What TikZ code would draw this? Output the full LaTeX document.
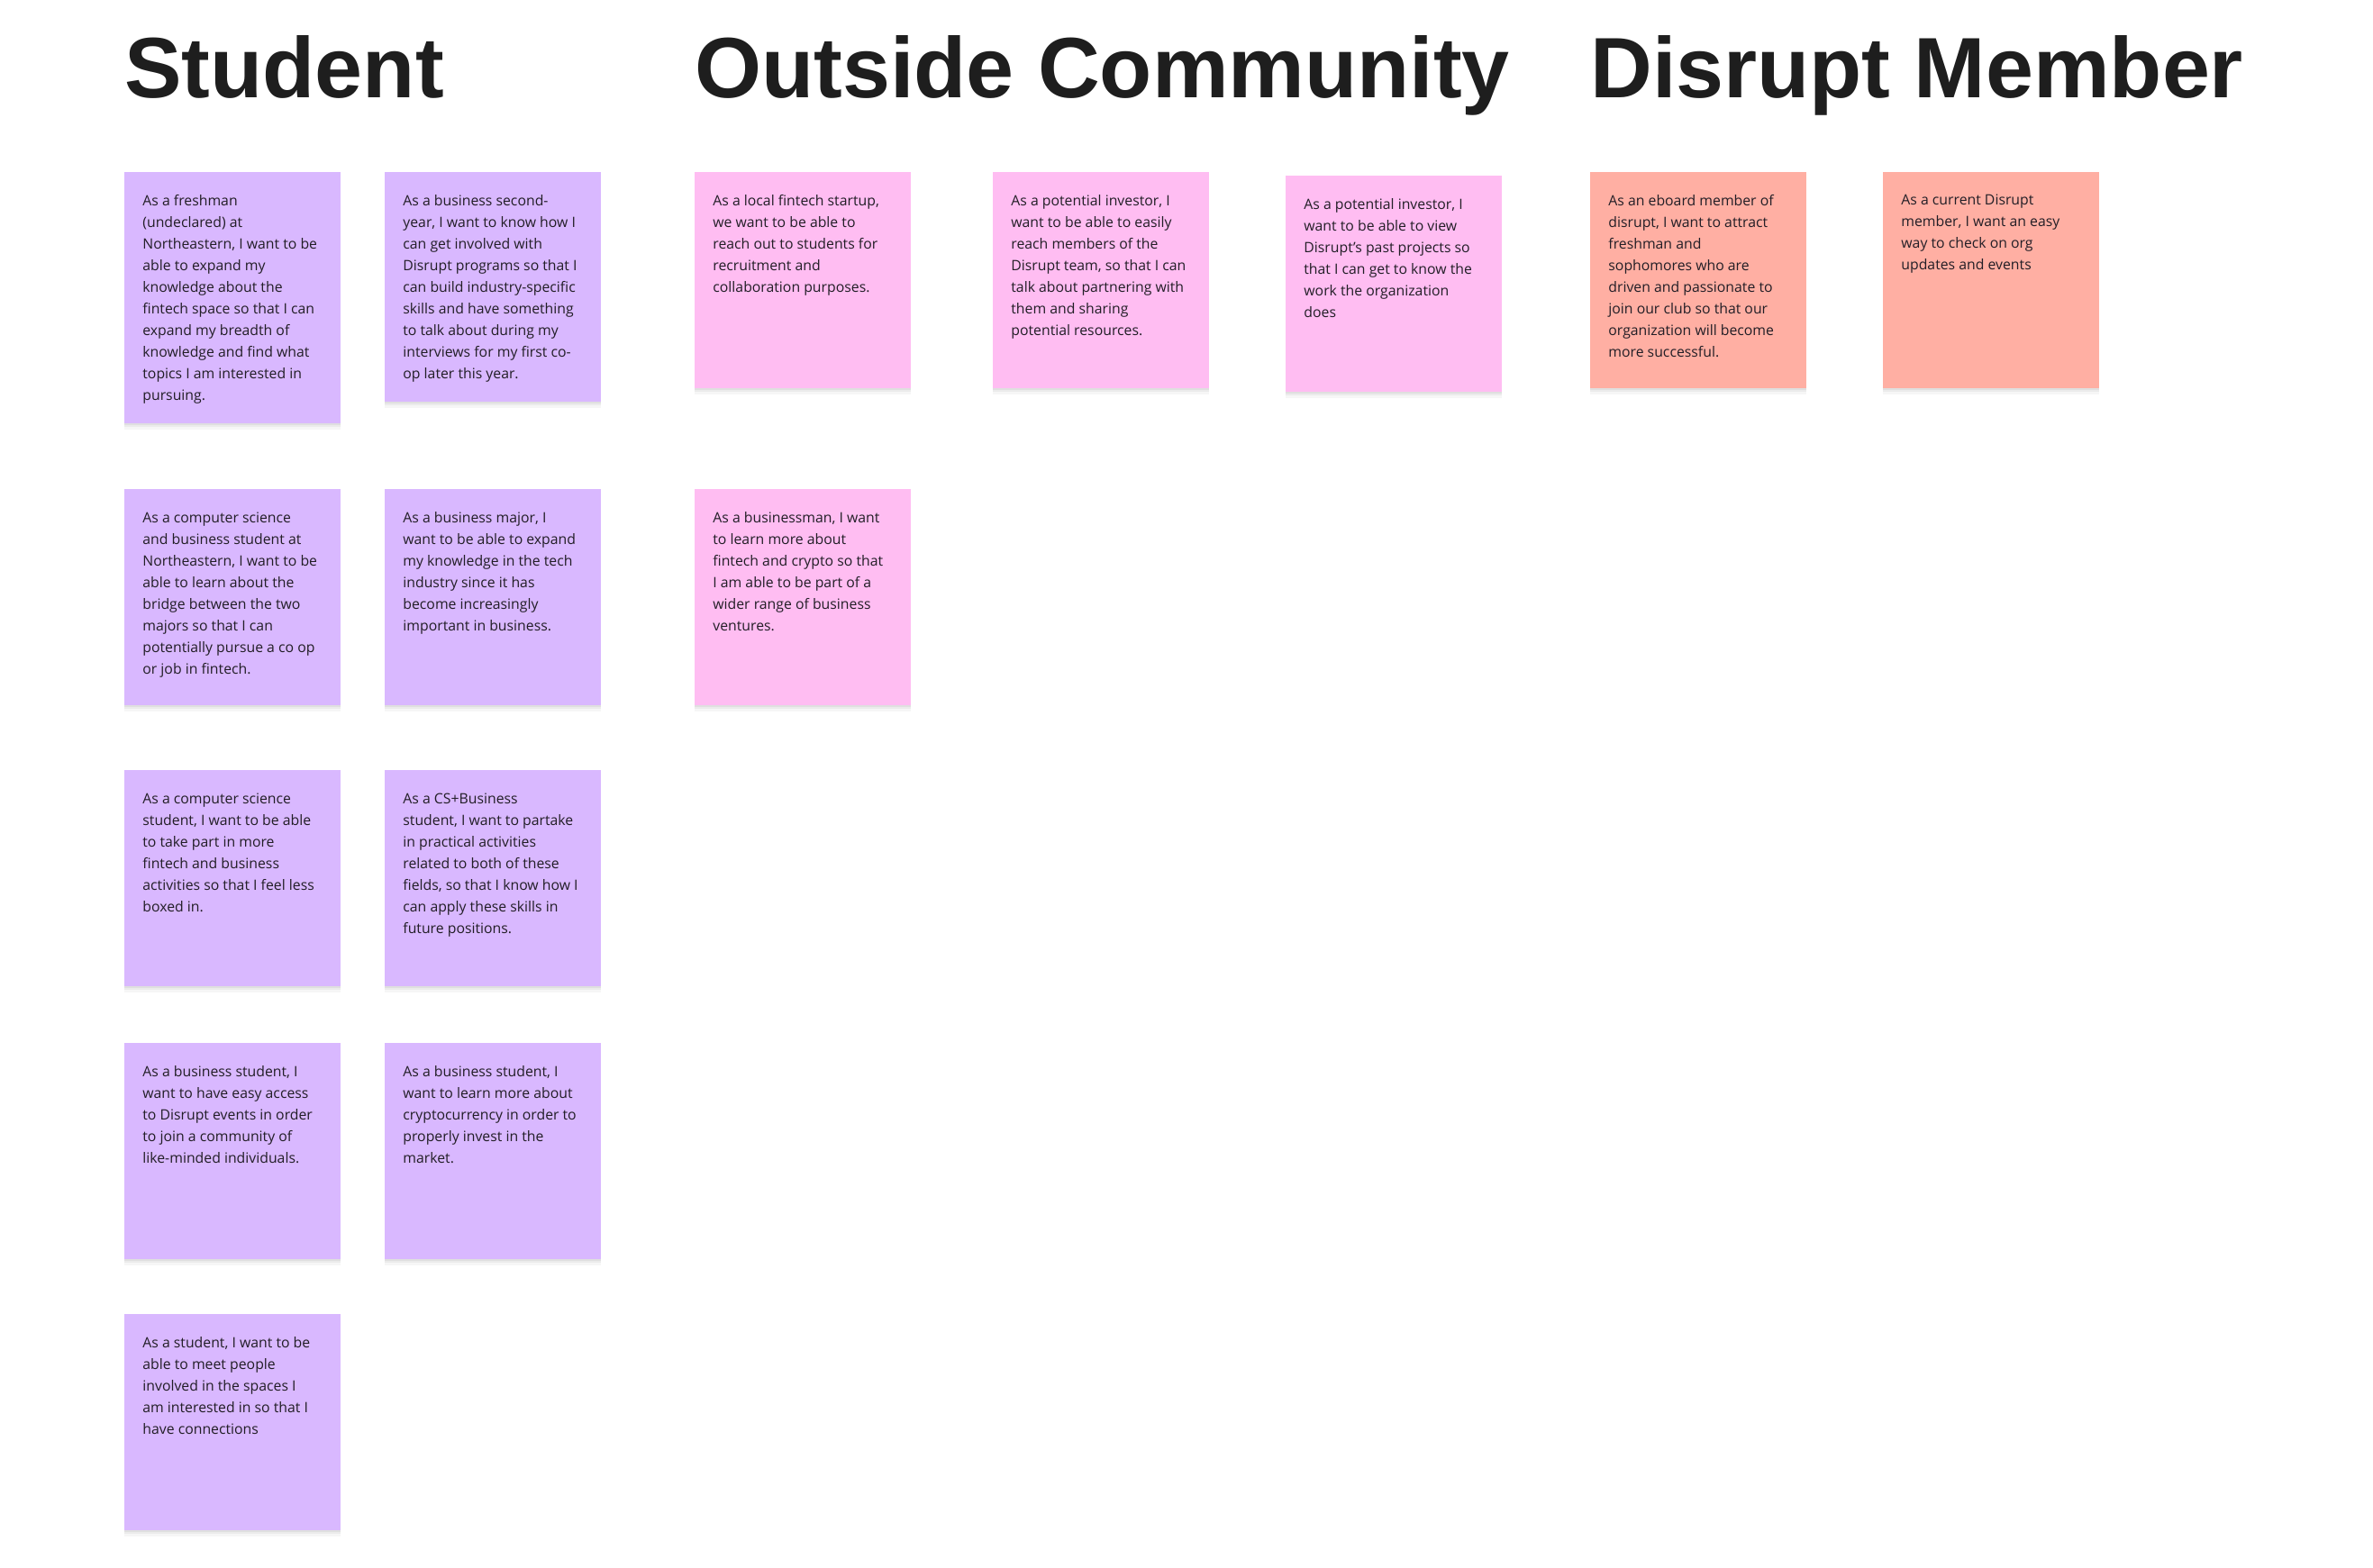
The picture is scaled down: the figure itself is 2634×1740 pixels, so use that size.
\documentclass[tikz,border=0pt]{standalone}
\usepackage{fontspec}
\setmainfont{Open Sans}
\newfontfamily\headfont{Liberation Sans}
\definecolor{purp}{HTML}{D9B8FF}
\definecolor{pinkn}{HTML}{FFBDF2}
\definecolor{redn}{HTML}{FFAFA3}
\definecolor{ink}{HTML}{1E1E1E}
\definecolor{txt}{HTML}{221E26}
\tikzset{
  note/.style={rectangle, anchor=north west, inner sep=0pt, minimum width=120pt, minimum height=120pt,
    preaction={fill=black, fill opacity=0.035, transform canvas={yshift=-3.5pt}},
    preaction={fill=black, fill opacity=0.045, transform canvas={yshift=-2pt}},
    preaction={fill=black, fill opacity=0.05, transform canvas={yshift=-1pt}}},
  student/.style={note, fill=purp},
  outside/.style={note, fill=pinkn},
  member/.style={note, fill=redn},
  notetext/.style={anchor=north west, inner sep=0pt, align=left, text=txt,
    font=\fontsize{7.9pt}{12pt}\selectfont},
  heading/.style={anchor=base west, inner sep=0pt, text=ink,
    font=\headfont\bfseries\fontsize{47.6pt}{56pt}\selectfont}
}
\begin{document}
\begin{tikzpicture}[x=0.5pt,y=-0.5pt]
\path[use as bounding box, fill=white] (0,0) rectangle (2634,1740);

% headings
\node[heading] (hs) at (138,108) {Student};
\node[heading] (ho) at (771,108) {Outside Community};
\node[heading] (hd) at (1765,108) {Disrupt Member};

% Student column
\node[student, minimum height=139.5pt] (s1) at (138,191) {};
\node[notetext] (s1t) at (158,216) {As a freshman\\(undeclared) at\\Northeastern, I want to be\\able to expand my\\knowledge about the\\fintech space so that I can\\expand my breadth of\\knowledge and find what\\topics I am interested in\\pursuing.};

\node[student, minimum height=127.5pt] (s2) at (427,191) {};
\node[notetext] (s2t) at (447,216) {As a business second-\\year, I want to know how I\\can get involved with\\Disrupt programs so that I\\can build industry-specific\\skills and have something\\to talk about during my\\interviews for my first co-\\op later this year.};

\node[student] (s3) at (138,543) {};
\node[notetext] (s3t) at (158,568) {As a computer science\\and business student at\\Northeastern, I want to be\\able to learn about the\\bridge between the two\\majors so that I can\\potentially pursue a co op\\or job in fintech.};

\node[student] (s4) at (427,543) {};
\node[notetext] (s4t) at (447,568) {As a business major, I\\want to be able to expand\\my knowledge in the tech\\industry since it has\\become increasingly\\important in business.};

\node[student] (s5) at (138,855) {};
\node[notetext] (s5t) at (158,880) {As a computer science\\student, I want to be able\\to take part in more\\fintech and business\\activities so that I feel less\\boxed in.};

\node[student] (s6) at (427,855) {};
\node[notetext] (s6t) at (447,880) {As a CS+Business\\student, I want to partake\\in practical activities\\related to both of these\\fields, so that I know how I\\can apply these skills in\\future positions.};

\node[student] (s7) at (138,1158) {};
\node[notetext] (s7t) at (158,1183) {As a business student, I\\want to have easy access\\to Disrupt events in order\\to join a community of\\like-minded individuals.};

\node[student] (s8) at (427,1158) {};
\node[notetext] (s8t) at (447,1183) {As a business student, I\\want to learn more about\\cryptocurrency in order to\\properly invest in the\\market.};

\node[student] (s9) at (138,1459) {};
\node[notetext] (s9t) at (158,1484) {As a student, I want to be\\able to meet people\\involved in the spaces I\\am interested in so that I\\have connections};

% Outside community
\node[outside] (o1) at (771,191) {};
\node[notetext] (o1t) at (791,216) {As a local fintech startup,\\we want to be able to\\reach out to students for\\recruitment and\\collaboration purposes.};

\node[outside] (o2) at (1102,191) {};
\node[notetext] (o2t) at (1122,216) {As a potential investor, I\\want to be able to easily\\reach members of the\\Disrupt team, so that I can\\talk about partnering with\\them and sharing\\potential resources.};

\node[outside] (o3) at (1427,195) {};
\node[notetext] (o3t) at (1447,220) {As a potential investor, I\\want to be able to view\\Disrupt’s past projects so\\that I can get to know the\\work the organization\\does};

\node[outside] (o4) at (771,543) {};
\node[notetext] (o4t) at (791,568) {As a businessman, I want\\to learn more about\\fintech and crypto so that\\I am able to be part of a\\wider range of business\\ventures.};

% Disrupt member
\node[member] (d1) at (1765,191) {};
\node[notetext] (d1t) at (1785,216) {As an eboard member of\\disrupt, I want to attract\\freshman and\\sophomores who are\\driven and passionate to\\join our club so that our\\organization will become\\more successful.};

\node[member] (d2) at (2090,191) {};
\node[notetext] (d2t) at (2110,216) {As a current Disrupt\\member, I want an easy\\way to check on org\\updates and events};
\end{tikzpicture}
\end{document}
